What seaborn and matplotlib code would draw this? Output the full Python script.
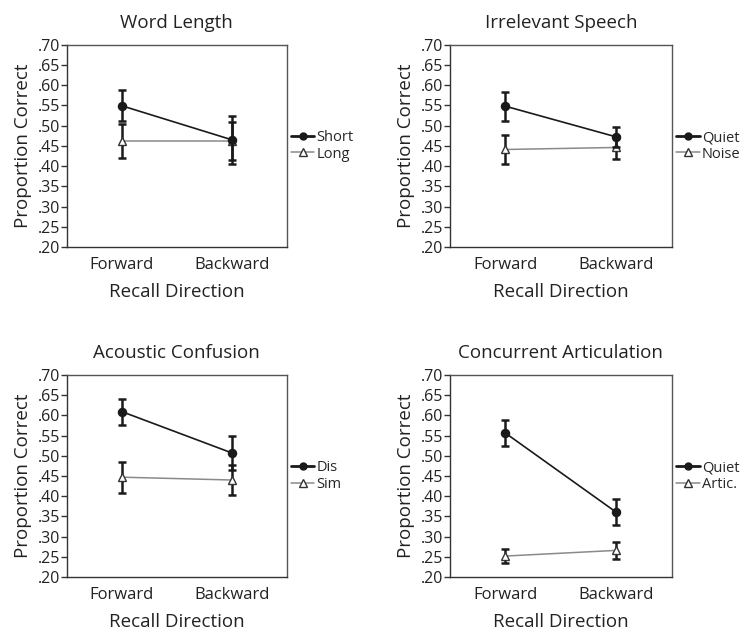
import matplotlib
matplotlib.use("Agg")
import matplotlib.pyplot as plt
from matplotlib.lines import Line2D
from matplotlib.ticker import FuncFormatter
import numpy as np
import pandas as pd
import seaborn as sns

# Data (means and error bar half-widths)
directions = ["Forward", "Backward"]

titles = ["Word Length", "Irrelevant Speech", "Acoustic Confusion", "Concurrent Articulation"]
first_labels = ["Short", "Quiet", "Dis", "Quiet"]
second_labels = ["Long", "Noise", "Sim", "Artic."]

word_first_mean = [0.549, 0.465]
word_first_err = [0.038, 0.060]
word_second_mean = [0.462, 0.462]
word_second_err = [0.042, 0.048]

speech_first_mean = [0.548, 0.472]
speech_first_err = [0.036, 0.025]
speech_second_mean = [0.441, 0.446]
speech_second_err = [0.037, 0.028]

acoustic_first_mean = [0.609, 0.507]
acoustic_first_err = [0.032, 0.042]
acoustic_second_mean = [0.447, 0.440]
acoustic_second_err = [0.038, 0.036]

artic_first_mean = [0.556, 0.360]
artic_first_err = [0.032, 0.032]
artic_second_mean = [0.252, 0.266]
artic_second_err = [0.018, 0.021]

first_means = [word_first_mean, speech_first_mean, acoustic_first_mean, artic_first_mean]
first_errs = [word_first_err, speech_first_err, acoustic_first_err, artic_first_err]
second_means = [word_second_mean, speech_second_mean, acoustic_second_mean, artic_second_mean]
second_errs = [word_second_err, speech_second_err, acoustic_second_err, artic_second_err]

sns.set_style("white")
plt.rcParams["font.family"] = ["Open Sans", "DejaVu Sans"]

fig = plt.figure(figsize=(7.4, 6.3), dpi=100)

# axes boxes in figure fractions (left, bottom, width, height)
boxes = [
    [0.0905, 0.608, 0.297, 0.321],
    [0.608, 0.608, 0.300, 0.321],
    [0.0905, 0.084, 0.297, 0.321],
    [0.608, 0.084, 0.300, 0.321],
]

dark = "#1a1a1a"
gray = "#8a8a8a"
txt = "#222222"

for i in range(4):
    ax = fig.add_axes(boxes[i])
    df = pd.DataFrame({
        "Direction": directions * 2,
        "Proportion": first_means[i] + second_means[i],
        "Condition": [first_labels[i]] * 2 + [second_labels[i]] * 2,
    })
    pal = {first_labels[i]: dark, second_labels[i]: gray}
    sns.pointplot(data=df, x="Direction", y="Proportion", hue="Condition",
                  order=directions, hue_order=[first_labels[i], second_labels[i]],
                  palette=pal, markers=["o", "^"], linestyles=["-", "-"],
                  errorbar=None, dodge=False, ax=ax, legend=False)

    point_lines = list(ax.lines)
    point_lines[0].set_linewidth(1.2)
    point_lines[0].set_markersize(4.8)
    point_lines[0].set_zorder(4)
    point_lines[1].set_linewidth(1.1)
    point_lines[1].set_markersize(5.8)
    point_lines[1].set_markerfacecolor("white")
    point_lines[1].set_markeredgecolor("#333333")
    point_lines[1].set_markeredgewidth(1.0)
    point_lines[1].set_zorder(3)

    xs = np.arange(len(directions))
    ax.errorbar(xs, first_means[i], yerr=first_errs[i], fmt="none", ecolor=dark,
                elinewidth=1.8, capsize=3, capthick=1.8, zorder=3.5)
    ax.errorbar(xs, second_means[i], yerr=second_errs[i], fmt="none", ecolor=dark,
                elinewidth=1.8, capsize=3, capthick=1.8, zorder=2.5)

    ax.set_xlim(-0.5, 1.5)
    ax.set_ylim(0.20, 0.70)
    ax.set_yticks(np.arange(0.20, 0.701, 0.05))
    ax.yaxis.set_major_formatter(FuncFormatter(lambda v, p: ("%.2f" % v)[1:]))
    ax.tick_params(axis="y", left=True, length=4, width=1, color="#333333",
                   labelsize=11.5, pad=1, labelcolor=txt)
    ax.tick_params(axis="x", bottom=False, labelsize=12, pad=4, labelcolor=txt)

    for side, sp in ax.spines.items():
        sp.set_visible(True)
        sp.set_linewidth(1.0)
        sp.set_color("#333333" if side in ("left", "bottom") else "#555555")

    ax.set_xlabel("Recall Direction", fontsize=13.5, labelpad=7, color=txt)
    ax.set_ylabel("Proportion Correct", fontsize=13.5, labelpad=4, color=txt)
    ax.set_title(titles[i], fontsize=13.5, pad=12, color=txt)

    handles = [
        Line2D([], [], color=dark, lw=2, marker="o", markersize=5),
        Line2D([], [], color=gray, lw=1.1, marker="^", markersize=5.5,
               markerfacecolor="white", markeredgecolor="#333333"),
    ]
    ax.legend(handles, [first_labels[i], second_labels[i]], loc="center left",
              bbox_to_anchor=(1.0, 0.5), frameon=False, fontsize=10.5,
              handlelength=1.6, handletextpad=0.15, labelspacing=0.1,
              borderaxespad=0.2, borderpad=0.1)

fig.savefig("out.png", dpi=100)
